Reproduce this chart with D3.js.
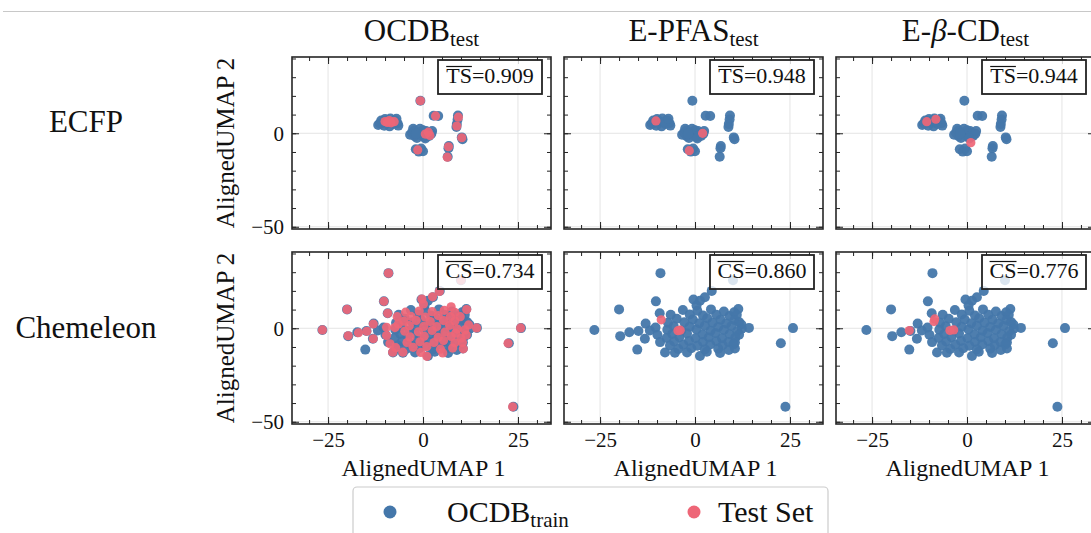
<!DOCTYPE html>
<html>
<head>
<meta charset="utf-8">
<script src="https://cdn.jsdelivr.net/npm/d3@7"></script>
<style>
  body { margin: 0; background: #fff; }
  svg { display: block; }
</style>
</head>
<body>
<div id="chart"></div>
<script>
// ---- data ----
var columns = ["OCDB", "E-PFAS", "E-β-CD"];
var rows = ["ECFP", "Chemeleon"];
var tsScores = ["0.909", "0.948", "0.944"];
var csScores = ["0.734", "0.860", "0.776"];
var xTicks = [-25, 0, 25];
var yTicks = [-50, 0];

// ECFP embedding of the OCDB train set (same for every column)
var ecfpTrain = [
  [-11.4, 5.2], [-11.0, 6.8], [-10.2, 4.0], [-10.0, 7.6], [-9.2, 5.6], [-8.8, 3.7],
  [-8.6, 7.9], [-7.8, 5.0], [-7.4, 6.9], [-6.7, 5.4], [-6.5, 4.1], [-9.6, 6.6],
  [-8.0, 6.2], [-10.6, 5.5], [-11.8, 4.4], [-7.0, 7.8],
  [-2.9, 0.2], [-2.3, 1.5], [-2.2, -1.6], [-1.2, 0.6], [-0.6, -1.0], [0.0, 1.6],
  [0.4, -2.0], [1.2, 0.2], [1.6, -1.4], [-1.6, -2.5], [0.8, 1.2],
  [-3.4, -0.8], [-2.6, 2.4], [-0.8, 2.4], [0.6, -2.8], [2.2, -0.2], [-1.8, -0.2], [2.4, 1.2],
  [-1.9, -8.5], [-0.5, -8.2], [-1.1, -9.8], [0.0, -9.6],
  [-0.7, 17.4], [2.8, 9.4], [4.0, 9.2],
  [9.2, 9.5], [9.1, 7.4], [8.9, 4.9], [8.8, 3.4],
  [10.2, -2.2], [10.4, -3.2], [6.8, -6.8], [6.7, -8.0], [6.5, -12.6]
];
var ecfpTestOcdb = [
  [-0.7, 17.4], [3.3, 9.3], [9.3, 8.6], [8.9, 3.9], [10.2, -2.4], [6.7, -7.2],
  [6.4, -12.8], [-1.4, -8.9], [0.6, -0.4], [1.8, -1.2], [1.4, 0.6],
  [-10.0, 6.3], [-8.9, 6.8], [-7.6, 6.2], [-8.4, 5.6], [-9.4, 5.8]
];
var ecfpTestPfas = [[-10.3, 6.6], [2.0, 0.0], [-1.5, -9.3]];
var ecfpTestCd = [[-10.6, 6.2], [-8.2, 7.5], [1.0, -5.0]];

// Chemeleon embedding of the OCDB train set
var chemTrain = [
  [-26.5, -0.9], [-20.0, 10.1], [-19.7, -4.2], [-17.3, -2.1], [-14.9, -1.5], [-13.0, 2.5],
  [-13.2, -5.6], [-15.2, -11.4], [-10.3, 14.4], [-9.1, 29.5], [-9.3, 8.0], [-9.9, -3.5],
  [-9.2, -7.4], [-7.9, -13.0], [-5.3, -13.1], [1.3, -14.8], [10.5, -10.8], [14.2, 0.2],
  [11.4, 10.3], [25.8, 0.1], [22.6, -8.0], [23.8, -42.0], [10.0, 25.7], [4.4, 20.0],
  [2.6, 16.6], [1.3, 14.7], [-0.4, 15.4], [0.4, 12.2], [-11.9, -1.2], [-10.4, 0.4],
  [-3.2, 9.8], [0.6, 9.4], [4.2, 10.1], [7.6, 9.0], [10.3, 8.6],
  [-6.4, 7.2], [-1.4, 7.4], [2.1, 6.8], [5.6, 7.3], [9.1, 6.6], [11.0, 7.2],
  [-4.8, 5.1], [-0.6, 4.7], [3.2, 5.4], [6.7, 4.6], [10.4, 4.4],
  [-7.1, 2.9], [-2.8, 3.2], [1.1, 2.7], [4.6, 3.0], [8.2, 2.6], [11.6, 3.3], [12.2, 2.0],
  [-5.6, 1.1], [-1.4, 0.8], [2.6, 1.3], [6.1, 0.7], [9.6, 1.2], [12.3, -0.2],
  [-7.3, -0.8], [-3.6, -1.2], [0.4, -0.7], [4.1, -1.3], [7.6, -0.9], [11.1, -1.6],
  [-6.0, -3.1], [-2.1, -2.8], [2.0, -3.3], [5.4, -2.7], [9.1, -3.2], [11.6, -3.4],
  [-7.5, -5.2], [-4.1, -4.8], [0.1, -5.3], [3.6, -4.9], [7.1, -5.4], [10.6, -5.0],
  [-5.5, -7.1], [-1.6, -6.8], [2.1, -7.3], [5.6, -6.9], [8.8, -7.4], [10.5, -7.6],
  [-6.6, -9.2], [-3.1, -8.8], [0.6, -9.3], [4.0, -8.7], [7.3, -9.1], [10.1, -8.6],
  [-4.4, -11.1], [-1.0, -10.7], [2.6, -11.3], [6.1, -10.9], [8.9, -11.6],
  [-2.1, -12.9], [3.1, -12.6], [6.6, -13.2]
];
var chemTestOcdb = [
  [-26.5, -0.9], [-20.0, 10.1], [-19.7, -4.0], [-17.0, -2.4], [-14.8, -1.6], [-13.1, 2.3],
  [-13.1, -5.6], [-10.3, 14.4], [-9.1, 29.5], [-9.3, 8.0], [-9.6, 0.5], [-9.6, -3.9],
  [-8.7, -8.3], [-8.0, -12.8], [-5.3, -12.8], [1.0, -15.0], [10.6, -11.0], [11.0, -0.9],
  [14.1, 0.2], [11.5, 10.0], [8.4, 8.5], [22.4, -8.0], [25.7, 0.2], [23.6, -42.0],
  [10.0, 25.7], [4.3, 19.7], [2.5, 16.8], [-0.3, 15.6], [0.1, 13.0], [-6.5, 2.3],
  [-4.6, 8.6], [-1.0, 9.2], [2.4, 8.9], [5.6, 9.6], [7.4, 11.5],
  [-6.8, 6.2], [-3.2, 6.4], [0.6, 6.0], [4.0, 6.8], [7.2, 6.2], [9.8, 6.2],
  [-5.0, 3.8], [-1.8, 4.2], [1.9, 3.6], [5.4, 4.1], [8.4, 3.9],
  [-7.4, 0.4], [-3.6, 1.4], [0.2, 1.0], [3.6, 0.9], [7.0, 1.6], [9.0, -0.4], [12.0, 1.8],
  [-4.8, -1.6], [-1.2, -1.9], [2.4, -1.2], [5.8, -2.0], [8.6, -2.6], [11.4, -3.6],
  [-3.4, -4.6], [0.3, -4.2], [4.0, -4.8], [7.4, -4.4], [10.0, -5.2],
  [-4.2, -7.6], [-0.8, -7.2], [2.9, -7.6], [5.4, -6.6], [8.4, -7.8], [10.4, -7.6],
  [-7.2, -10.4], [-2.6, -10.2], [1.0, -9.8], [4.6, -11.2], [7.8, -10.6],
  [-0.6, -12.9], [5.2, -13.2]
];
var chemTestPfas = [[-8.9, 4.5], [-4.5, -1.3], [-3.9, -1.0]];
var chemTestCd = [[-15.2, -1.2], [-8.7, 3.6], [-8.5, 5.0], [-4.5, -1.2], [-3.5, -0.9]];

var trainSets = [ecfpTrain, chemTrain];
var testSets = [[ecfpTestOcdb, ecfpTestPfas, ecfpTestCd], [chemTestOcdb, chemTestPfas, chemTestCd]];
var scores = [tsScores, csScores];
var scoreNames = ["TS", "CS"];

// ---- layout ----
var W = 1091, H = 533;
var panelW = 259, panelH = 172;
var colX = [292, 564, 836];
var rowY = [57, 252];
var blue = "#4477AA", red = "#EE6677";
var FONT = "'Liberation Serif', 'Times New Roman', serif";

var svg = d3.select("#chart").append("svg")
  .attr("width", W).attr("height", H)
  .attr("font-family", FONT);

// thin page line at the top
svg.append("line")
  .attr("x1", 3).attr("x2", W).attr("y1", 11.5).attr("y2", 11.5)
  .attr("stroke", "#c8c8c8").attr("stroke-width", 1);

var x = d3.scaleLinear().domain([-34.5, 33.7]).range([0, panelW]);
var y = d3.scaleLinear().domain([-51.2, 40.8]).range([panelH, 0]);
var xMinor = d3.range(-30, 31, 5);
var yMinor = d3.range(-50, 41, 10);

// column titles
columns.forEach(function(name, c) {
  var t = svg.append("text")
    .attr("x", colX[c] + panelW / 2).attr("y", 41)
    .attr("text-anchor", "middle").attr("font-size", 31).attr("fill", "#111");
  if (name === "E-β-CD") {
    t.append("tspan").text("E-");
    t.append("tspan").attr("font-style", "italic").text("β");
    t.append("tspan").text("-CD");
  } else {
    t.append("tspan").text(name);
  }
  t.append("tspan").attr("font-size", 21).attr("dy", 5).text("test");
});

// row labels
rows.forEach(function(name, r) {
  svg.append("text")
    .attr("x", 86).attr("y", r === 0 ? 132 : 338)
    .attr("text-anchor", "middle").attr("font-size", 31).attr("fill", "#111")
    .text(name);
  svg.append("text")
    .attr("transform", "translate(234," + (rowY[r] + panelH / 2) + ") rotate(-90)")
    .attr("text-anchor", "middle").attr("font-size", 25).attr("fill", "#111")
    .text("AlignedUMAP 2");
});

rows.forEach(function(rowName, r) {
  columns.forEach(function(colName, c) {
    var g = svg.append("g")
      .attr("transform", "translate(" + colX[c] + "," + rowY[r] + ")");

    g.append("clipPath").attr("id", "clip" + r + c)
      .append("rect").attr("width", panelW).attr("height", panelH);

    // grid
    g.selectAll(".vgrid").data(xTicks).enter().append("line")
      .attr("x1", function(d) { return x(d); }).attr("x2", function(d) { return x(d); })
      .attr("y1", 0).attr("y2", panelH)
      .attr("stroke", "#e4e4e4").attr("stroke-width", 1);
    g.selectAll(".hgrid").data(yTicks).enter().append("line")
      .attr("x1", 0).attr("x2", panelW)
      .attr("y1", function(d) { return y(d); }).attr("y2", function(d) { return y(d); })
      .attr("stroke", "#e4e4e4").attr("stroke-width", 1);

    // points
    var pts = g.append("g").attr("clip-path", "url(#clip" + r + c + ")");
    pts.selectAll(".train").data(trainSets[r]).enter().append("circle")
      .attr("cx", function(d) { return x(d[0]); })
      .attr("cy", function(d) { return y(d[1]); })
      .attr("r", 5).attr("fill", blue).attr("fill-opacity", 0.95);
    pts.selectAll(".test").data(testSets[r][c]).enter().append("circle")
      .attr("cx", function(d) { return x(d[0]); })
      .attr("cy", function(d) { return y(d[1]); })
      .attr("r", 4.6).attr("fill", red).attr("fill-opacity", 0.92);

    // inward ticks on all four sides
    var showX = r === rows.length - 1, showY = c === 0;
    function addAxis(axis, tr, labels) {
      var a = g.append("g").attr("transform", tr).call(axis);
      a.attr("font-family", FONT);
      a.select(".domain").remove();
      a.selectAll("line").attr("stroke", "#222").attr("stroke-width", 1);
      a.selectAll("text").attr("font-size", 21).attr("fill", "#111");
      if (!labels) a.selectAll("text").remove();
    }
    addAxis(d3.axisBottom(x).tickValues(xTicks).tickSize(-7).tickSizeOuter(0).tickPadding(8),
      "translate(0," + panelH + ")", showX);
    addAxis(d3.axisBottom(x).tickValues(xMinor).tickSize(-4).tickSizeOuter(0), "translate(0," + panelH + ")", false);
    addAxis(d3.axisTop(x).tickValues(xTicks).tickSize(-7).tickSizeOuter(0), "translate(0,0)", false);
    addAxis(d3.axisTop(x).tickValues(xMinor).tickSize(-4).tickSizeOuter(0), "translate(0,0)", false);
    addAxis(d3.axisLeft(y).tickValues(yTicks).tickSize(-7).tickSizeOuter(0).tickPadding(8),
      "translate(0,0)", showY);
    addAxis(d3.axisLeft(y).tickValues(yMinor).tickSize(-4).tickSizeOuter(0), "translate(0,0)", false);
    addAxis(d3.axisRight(y).tickValues(yTicks).tickSize(-7).tickSizeOuter(0), "translate(" + panelW + ",0)", false);
    addAxis(d3.axisRight(y).tickValues(yMinor).tickSize(-4).tickSizeOuter(0), "translate(" + panelW + ",0)", false);

    // frame
    g.append("rect").attr("width", panelW).attr("height", panelH)
      .attr("fill", "none").attr("stroke", "#262626").attr("stroke-width", 1.6);

    // score box
    var bx = panelW - 113, by = 3, bw = 104, bh = 34;
    g.append("rect").attr("x", bx).attr("y", by).attr("width", bw).attr("height", bh)
      .attr("fill", "#fff").attr("fill-opacity", 0.8)
      .attr("stroke", "#222").attr("stroke-width", 1.8);
    var st = g.append("text")
      .attr("x", bx + bw / 2).attr("y", 26)
      .attr("text-anchor", "middle").attr("font-size", 22).attr("fill", "#111")
      .style("font-family", FONT);
    st.append("tspan").text(scoreNames[r]);
    st.append("tspan").text("=" + scores[r][c]);
    var n = st.node();
    var x0 = n.getStartPositionOfChar(0).x, x1 = n.getEndPositionOfChar(1).x;
    g.append("line").attr("x1", x0).attr("x2", x1).attr("y1", 9.5).attr("y2", 9.5)
      .attr("stroke", "#111").attr("stroke-width", 1.2);

    if (showX) {
      g.append("text")
        .attr("x", panelW / 2 + 2).attr("y", panelH + 52)
        .attr("text-anchor", "middle").attr("font-size", 24).attr("fill", "#111")
        .text("AlignedUMAP 1");
    }
  });
});

// legend
var lg = svg.append("g");
lg.append("rect").attr("x", 353).attr("y", 487).attr("width", 475).attr("height", 70)
  .attr("rx", 4).attr("fill", "#fff").attr("stroke", "#cccccc").attr("stroke-width", 1.2);
lg.append("circle").attr("cx", 390).attr("cy", 512).attr("r", 6.5).attr("fill", blue);
lg.append("circle").attr("cx", 694).attr("cy", 512).attr("r", 6.5).attr("fill", red);
var l1 = lg.append("text").attr("x", 447).attr("y", 522).attr("font-size", 30).attr("fill", "#111");
l1.append("tspan").text("OCDB");
l1.append("tspan").attr("font-size", 21).attr("dy", 5).text("train");
lg.append("text").attr("x", 718).attr("y", 522).attr("font-size", 30).attr("fill", "#111")
  .text("Test Set");

// make sure every label uses the serif face
svg.selectAll("text").style("font-family", FONT);
</script>
</body>
</html>
